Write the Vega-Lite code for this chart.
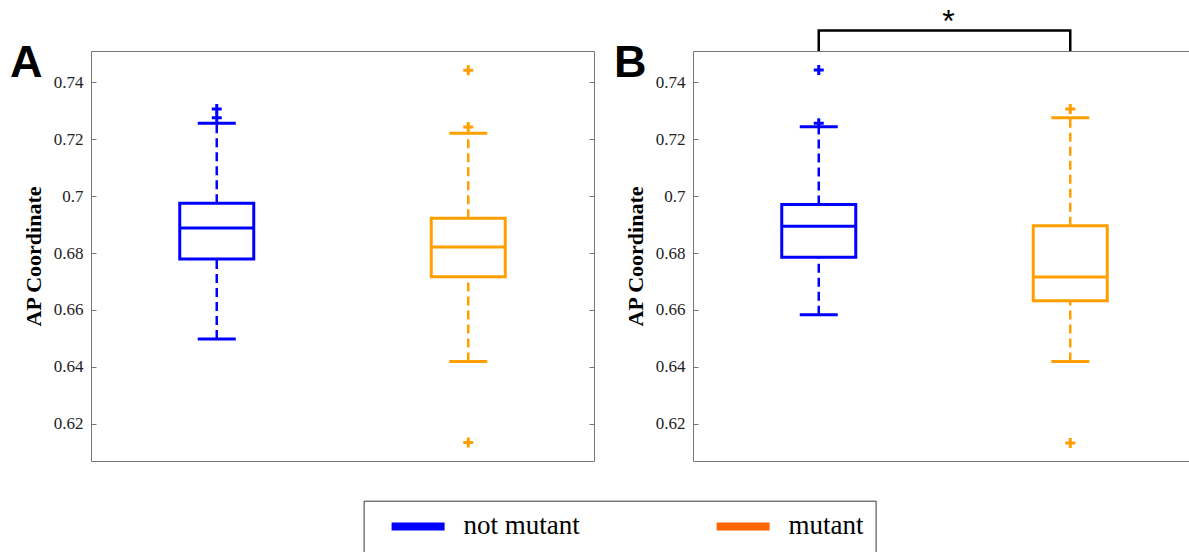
{
  "$schema": "https://vega.github.io/schema/vega-lite/v6.json",
  "autosize": {"type": "none"},
  "padding": {"left": 91, "top": 51, "right": 1098, "bottom": 501},
  "background": "white",
  "datasets": {
    "summary": [
      {"panel": "A", "group": "not mutant", "lo": 0.6498, "q1": 0.6779, "med": 0.6888, "q3": 0.6975, "hi": 0.7255},
      {"panel": "A", "group": "mutant", "lo": 0.6419, "q1": 0.6717, "med": 0.6821, "q3": 0.6922, "hi": 0.7220},
      {"panel": "B", "group": "not mutant", "lo": 0.6583, "q1": 0.6785, "med": 0.6894, "q3": 0.6970, "hi": 0.7243},
      {"panel": "B", "group": "mutant", "lo": 0.6419, "q1": 0.6632, "med": 0.6716, "q3": 0.6896, "hi": 0.7275}
    ],
    "outliers": [
      {"panel": "A", "group": "not mutant", "v": 0.7305},
      {"panel": "A", "group": "not mutant", "v": 0.7275},
      {"panel": "A", "group": "mutant", "v": 0.7441},
      {"panel": "A", "group": "mutant", "v": 0.7242},
      {"panel": "A", "group": "mutant", "v": 0.6135},
      {"panel": "B", "group": "not mutant", "v": 0.7442},
      {"panel": "B", "group": "not mutant", "v": 0.7255},
      {"panel": "B", "group": "mutant", "v": 0.7305},
      {"panel": "B", "group": "mutant", "v": 0.6133}
    ],
    "bracket": [
      {"group": "not mutant", "v": 0.7509, "o": 1},
      {"group": "not mutant", "v": 0.7581, "o": 2},
      {"group": "mutant", "v": 0.7581, "o": 3},
      {"group": "mutant", "v": 0.7509, "o": 4}
    ]
  },
  "spacing": 99,
  "bounds": "flush",
  "hconcat": [
    {
      "width": 503,
      "height": 410,
      "title": {"text": "A", "anchor": "start", "frame": "group", "font": "Liberation Sans", "fontWeight": "bold", "fontSize": 45, "color": "black", "baseline": "alphabetic", "offset": 0, "dx": -81, "dy": 71},
      "resolve": {"axis": {"x": "independent", "y": "independent"}, "scale": {"color": "independent"}},
      "layer": [
        {
          "data": {"name": "summary"},
          "transform": [{"filter": "datum.panel === 'A'"}],
          "mark": {"type": "rule", "strokeWidth": 2.5, "strokeDash": [9, 5]},
          "encoding": {
            "x": {"field": "group", "type": "nominal", "axis": null, "scale": {"type": "band", "domain": ["not mutant", "mutant"], "paddingInner": 0, "paddingOuter": 0}},
            "y": {"field": "q3", "type": "quantitative", "axis": null, "scale": {"domain": [0.607, 0.7509], "nice": false, "zero": false}},
            "y2": {"field": "hi"},
            "color": {"field": "group", "type": "nominal", "legend": null, "scale": {"domain": ["not mutant", "mutant"], "range": ["#0000ff", "#ffa000"]}}
          }
        },
        {
          "data": {"name": "summary"},
          "transform": [{"filter": "datum.panel === 'A'"}],
          "mark": {"type": "rule", "strokeWidth": 2.5, "strokeDash": [9, 5]},
          "encoding": {
            "x": {"field": "group", "type": "nominal", "axis": null},
            "y": {"field": "lo", "type": "quantitative", "axis": null},
            "y2": {"field": "q1"},
            "color": {"field": "group", "type": "nominal", "legend": null, "scale": {"domain": ["not mutant", "mutant"], "range": ["#0000ff", "#ffa000"]}}
          }
        },
        {
          "data": {"name": "summary"},
          "transform": [{"filter": "datum.panel === 'A'"}],
          "mark": {"type": "tick", "size": 38, "thickness": 3, "opacity": 1},
          "encoding": {
            "x": {"field": "group", "type": "nominal", "axis": null},
            "y": {"field": "hi", "type": "quantitative", "axis": null},
            "color": {"field": "group", "type": "nominal", "legend": null, "scale": {"domain": ["not mutant", "mutant"], "range": ["#0000ff", "#ffa000"]}}
          }
        },
        {
          "data": {"name": "summary"},
          "transform": [{"filter": "datum.panel === 'A'"}],
          "mark": {"type": "tick", "size": 38, "thickness": 3, "opacity": 1},
          "encoding": {
            "x": {"field": "group", "type": "nominal", "axis": null},
            "y": {"field": "lo", "type": "quantitative", "axis": null},
            "color": {"field": "group", "type": "nominal", "legend": null, "scale": {"domain": ["not mutant", "mutant"], "range": ["#0000ff", "#ffa000"]}}
          }
        },
        {
          "data": {"name": "summary"},
          "transform": [{"filter": "datum.panel === 'A'"}],
          "mark": {"type": "bar", "size": 74, "filled": false, "strokeWidth": 3},
          "encoding": {
            "x": {"field": "group", "type": "nominal", "axis": null},
            "y": {"field": "q1", "type": "quantitative", "title": "AP Coordinate", "axis": {"orient": "left", "values": [0.62, 0.64, 0.66, 0.68, 0.7, 0.72, 0.74], "format": ".2~f", "titleX": -58, "titleY": 205, "titleBaseline": "middle"}},
            "y2": {"field": "q3"},
            "color": {"field": "group", "type": "nominal", "legend": null, "scale": {"domain": ["not mutant", "mutant"], "range": ["#0000ff", "#ffa000"]}}
          }
        },
        {
          "data": {"name": "summary"},
          "transform": [{"filter": "datum.panel === 'A'"}],
          "mark": {"type": "tick", "size": 74, "thickness": 3, "opacity": 1},
          "encoding": {
            "x": {"field": "group", "type": "nominal", "axis": null},
            "y": {"field": "med", "type": "quantitative", "title": null, "axis": {"orient": "right", "labels": false, "values": [0.62, 0.64, 0.66, 0.68, 0.7, 0.72, 0.74]}},
            "color": {"field": "group", "type": "nominal", "legend": null, "scale": {"domain": ["not mutant", "mutant"], "range": ["#0000ff", "#ffa000"]}}
          }
        },
        {
          "data": {"name": "outliers"},
          "transform": [{"filter": "datum.panel === 'A'"}],
          "mark": {"type": "point", "shape": "M-1,0H1M0,-1V1", "filled": false, "strokeWidth": 3, "size": 100, "opacity": 1},
          "encoding": {
            "x": {"field": "group", "type": "nominal", "axis": null},
            "y": {"field": "v", "type": "quantitative", "axis": null},
            "color": {"field": "group", "type": "nominal", "legend": null, "scale": {"domain": ["not mutant", "mutant"], "range": ["#0000ff", "#ffa000"]}}
          }
        },
        {
          "data": {"name": "summary"},
          "transform": [{"filter": "datum.panel === 'A'"}],
          "mark": {"type": "rule", "strokeCap": "butt", "strokeWidth": 1},
          "encoding": {
            "x": {"field": "group", "type": "nominal", "axis": null},
            "y": {"field": "q1", "type": "quantitative", "axis": null},
            "y2": {"field": "q1"},
            "color": {
              "field": "group", "type": "nominal",
              "scale": {"domain": ["not mutant", "mutant"], "range": ["#0000ff", "#ff6600"]},
              "legend": {
                "title": null, "orient": "none", "legendX": 272.6, "legendY": 449.7,
                "direction": "horizontal", "symbolType": "M-3,0H3", "symbolSize": 312, "symbolStrokeWidth": 8,
                "labelFont": "Liberation Serif", "labelFontSize": 27, "labelColor": "black",
                "labelOffset": 32, "columnPadding": 120, "padding": 12, "symbolOffset": 29,
                "labelExpr": "datum.label === 'mutant' ? 'mutant\u2002' : datum.label",
                "strokeColor": "#333", "labelLimit": 0
              }
            }
          }
        }
      ]
    },
    {
      "width": 503,
      "height": 410,
      "title": {"text": "B", "anchor": "start", "frame": "group", "font": "Liberation Sans", "fontWeight": "bold", "fontSize": 45, "color": "black", "baseline": "alphabetic", "offset": 0, "dx": -79, "dy": 116},
      "resolve": {"axis": {"x": "independent", "y": "independent"}},
      "layer": [
        {
          "data": {"name": "summary"},
          "transform": [{"filter": "datum.panel === 'B'"}],
          "mark": {"type": "rule", "strokeWidth": 2.5, "strokeDash": [9, 5]},
          "encoding": {
            "x": {"field": "group", "type": "nominal", "title": "*", "axis": {"orient": "top", "labels": false, "ticks": false, "domain": false, "titleFont": "Liberation Sans", "titleFontSize": 32, "titleFontWeight": "normal", "titleX": 255, "titleY": -19.5, "titleBaseline": "alphabetic", "titleAlign": "center"}, "scale": {"type": "band", "domain": ["not mutant", "mutant"], "paddingInner": 0, "paddingOuter": 0}},
            "y": {"field": "q3", "type": "quantitative", "axis": null, "scale": {"domain": [0.607, 0.7509], "nice": false, "zero": false}},
            "y2": {"field": "hi"},
            "color": {"field": "group", "type": "nominal", "legend": null, "scale": {"domain": ["not mutant", "mutant"], "range": ["#0000ff", "#ffa000"]}}
          }
        },
        {
          "data": {"name": "summary"},
          "transform": [{"filter": "datum.panel === 'B'"}],
          "mark": {"type": "rule", "strokeWidth": 2.5, "strokeDash": [9, 5]},
          "encoding": {
            "x": {"field": "group", "type": "nominal", "axis": null},
            "y": {"field": "lo", "type": "quantitative", "axis": null},
            "y2": {"field": "q1"},
            "color": {"field": "group", "type": "nominal", "legend": null}
          }
        },
        {
          "data": {"name": "summary"},
          "transform": [{"filter": "datum.panel === 'B'"}],
          "mark": {"type": "tick", "size": 38, "thickness": 3, "opacity": 1},
          "encoding": {
            "x": {"field": "group", "type": "nominal", "axis": null},
            "y": {"field": "hi", "type": "quantitative", "axis": null},
            "color": {"field": "group", "type": "nominal", "legend": null}
          }
        },
        {
          "data": {"name": "summary"},
          "transform": [{"filter": "datum.panel === 'B'"}],
          "mark": {"type": "tick", "size": 38, "thickness": 3, "opacity": 1},
          "encoding": {
            "x": {"field": "group", "type": "nominal", "axis": null},
            "y": {"field": "lo", "type": "quantitative", "axis": null},
            "color": {"field": "group", "type": "nominal", "legend": null}
          }
        },
        {
          "data": {"name": "summary"},
          "transform": [{"filter": "datum.panel === 'B'"}],
          "mark": {"type": "bar", "size": 74, "filled": false, "strokeWidth": 3},
          "encoding": {
            "x": {"field": "group", "type": "nominal", "axis": null},
            "y": {"field": "q1", "type": "quantitative", "title": "AP Coordinate", "axis": {"orient": "left", "values": [0.62, 0.64, 0.66, 0.68, 0.7, 0.72, 0.74], "format": ".2~f", "titleX": -58, "titleY": 205, "titleBaseline": "middle"}},
            "y2": {"field": "q3"},
            "color": {"field": "group", "type": "nominal", "legend": null}
          }
        },
        {
          "data": {"name": "summary"},
          "transform": [{"filter": "datum.panel === 'B'"}],
          "mark": {"type": "tick", "size": 74, "thickness": 3, "opacity": 1},
          "encoding": {
            "x": {"field": "group", "type": "nominal", "axis": null},
            "y": {"field": "med", "type": "quantitative", "title": null, "axis": {"orient": "right", "labels": false, "values": [0.62, 0.64, 0.66, 0.68, 0.7, 0.72, 0.74]}},
            "color": {"field": "group", "type": "nominal", "legend": null}
          }
        },
        {
          "data": {"name": "outliers"},
          "transform": [{"filter": "datum.panel === 'B'"}],
          "mark": {"type": "point", "shape": "M-1,0H1M0,-1V1", "filled": false, "strokeWidth": 3, "size": 100, "opacity": 1},
          "encoding": {
            "x": {"field": "group", "type": "nominal", "axis": null},
            "y": {"field": "v", "type": "quantitative", "axis": null},
            "color": {"field": "group", "type": "nominal", "legend": null}
          }
        },
        {
          "data": {"name": "bracket"},
          "mark": {"type": "line", "color": "black", "strokeWidth": 2.5, "strokeJoin": "miter", "strokeCap": "butt"},
          "encoding": {
            "x": {"field": "group", "type": "nominal", "axis": null},
            "y": {"field": "v", "type": "quantitative", "axis": null},
            "order": {"field": "o", "type": "quantitative"}
          }
        }
      ]
    }
  ],
  "resolve": {"scale": {"color": "independent"}},
  "config": {
    "font": "Liberation Serif",
    "view": {"stroke": "#777", "strokeWidth": 1},
    "axis": {
      "grid": false,
      "domain": false,
      "tickSize": -5,
      "tickColor": "#777",
      "tickWidth": 1,
      "labelFont": "Liberation Serif",
      "labelFontSize": 17,
      "labelColor": "#222",
      "labelPadding": 13,
      "titleFont": "Liberation Serif",
      "titleFontSize": 22,
      "titleFontWeight": "bold",
      "titleColor": "black"
    }
  }
}
